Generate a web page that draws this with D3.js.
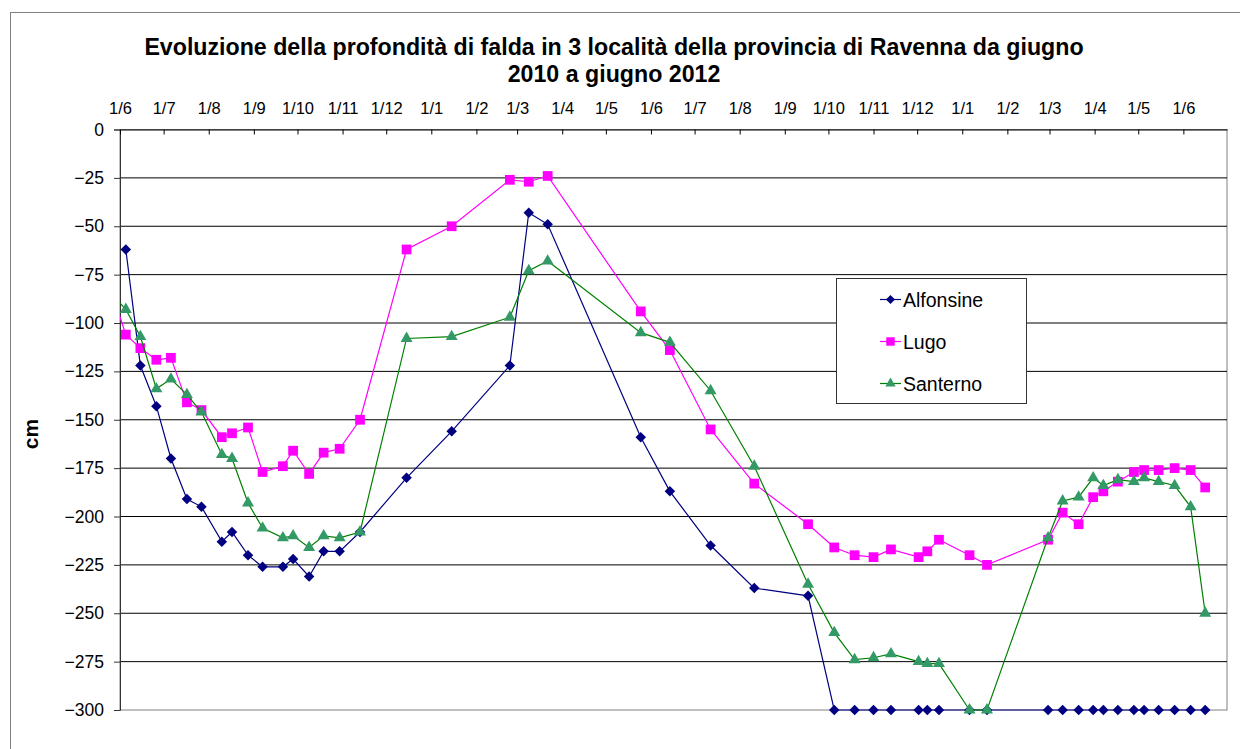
<!DOCTYPE html>
<html>
<head>
<meta charset="utf-8">
<script src="https://cdn.jsdelivr.net/npm/d3@7"></script>
<style>
  html, body { margin: 0; padding: 0; background: #fff; }
  svg { display: block; font-family: "Liberation Sans", Arial, sans-serif; }
</style>
</head>
<body>
<svg id="chart" width="1240" height="749"></svg>
<script>
// ---------------- DATA ----------------
const titleLines = [
  "Evoluzione della profondità di falda in 3 località della provincia di Ravenna da giugno",
  "2010 a giugno 2012"
];
const yLabel = "cm";
const seriesNames = ["Alfonsine", "Lugo", "Santerno"];

const dates = [
  "2010-05-25",
  "2010-06-05","2010-06-15","2010-06-26","2010-07-06","2010-07-17","2010-07-27","2010-08-10","2010-08-17","2010-08-28",
  "2010-09-07","2010-09-21","2010-09-28","2010-10-09","2010-10-19","2010-10-30","2010-11-13","2010-12-15",
  "2011-01-15","2011-02-24","2011-03-09","2011-03-22","2011-05-25","2011-06-14","2011-07-12","2011-08-11","2011-09-17",
  "2011-10-05","2011-10-19","2011-11-01","2011-11-13","2011-12-02","2011-12-08","2011-12-16",
  "2012-01-06","2012-01-18","2012-02-29","2012-03-10","2012-03-21","2012-03-31","2012-04-07","2012-04-17","2012-04-28",
  "2012-05-05","2012-05-15","2012-05-26","2012-06-06","2012-06-16"
];

const alfonsine = [
  null,
  -62,-122,-143,-170,-191,-195,-213,-208,-220,
  -226,-226,-222,-231,-218,-218,-208,-180,
  -156,-122,-43,-49,-159,-187,-215,-237,-241,
  -300,-300,-300,-300,-300,-300,-300,
  -300,-300,-300,-300,-300,-300,-300,-300,-300,-300,-300,-300,-300,-300
];
const lugo = [
  -81,
  -106,-113,-119,-118,-141,-145,-159,-157,-154,
  -177,-174,-166,-178,-167,-165,-150,-62,
  -50,-26,-27,-24,-94,-114,-155,-183,-204,
  -216,-220,-221,-217,-221,-218,-212,
  -220,-225,-212,-198,-204,-190,-187,-182,-177,-176,-176,-175,-176,-185
];
const santerno = [
  -84,
  -93,-107,-134,-129,-137,-146,-168,-170,-193,
  -206,-211,-210,-216,-210,-211,-208,-108,
  -107,-97,-73,-68,-105,-110,-135,-174,-235,
  -260,-274,-273,-271,-275,-276,-276,
  -300,-300,-211,-192,-190,-180,-184,-181,-182,-180,-182,-184,-195,-250
];

const xDomain = ["2010-06-01", "2012-07-01"];
const xTickDates = [
  "2010-06-01","2010-07-01","2010-08-01","2010-09-01","2010-10-01","2010-11-01","2010-12-01",
  "2011-01-01","2011-02-01","2011-03-01","2011-04-01","2011-05-01","2011-06-01","2011-07-01",
  "2011-08-01","2011-09-01","2011-10-01","2011-11-01","2011-12-01",
  "2012-01-01","2012-02-01","2012-03-01","2012-04-01","2012-05-01","2012-06-01"
];
const yTicks = [0,-25,-50,-75,-100,-125,-150,-175,-200,-225,-250,-275,-300];

// ---------------- LAYOUT ----------------
const parse = d3.timeParse("%Y-%m-%d");
const svg = d3.select("#chart");
const plot = { left: 120, right: 1227, top: 129.5, bottom: 710 };

const x = d3.scaleTime().domain(xDomain.map(parse)).range([plot.left, plot.right]);
const y = d3.scaleLinear().domain([-300, 0]).range([plot.bottom, plot.top]);

// outer chart border
svg.append("rect")
  .attr("x", 10.5).attr("y", 12.5).attr("width", 1240).attr("height", 760)
  .attr("fill", "#fff").attr("stroke", "#808080").attr("stroke-width", 1);

// plot area
svg.append("rect")
  .attr("x", plot.left).attr("y", plot.top)
  .attr("width", plot.right - plot.left).attr("height", plot.bottom - plot.top)
  .attr("fill", "#fff").attr("stroke", "#808080").attr("stroke-width", 1);

// gridlines
svg.append("g")
  .selectAll("line")
  .data(yTicks.filter(v => v !== 0 && v !== -300))
  .join("line")
  .attr("x1", plot.left).attr("x2", plot.right)
  .attr("y1", d => y(d)).attr("y2", d => y(d))
  .attr("stroke", "#000").attr("stroke-width", 1);

// y axis
const yAxis = d3.axisLeft(y).tickValues(yTicks).tickSize(6).tickPadding(10).tickFormat(d3.format("d"));
const gy = svg.append("g").attr("transform", `translate(${plot.left},0)`).call(yAxis);
gy.select(".domain").attr("stroke", "#333");
gy.selectAll(".tick line").attr("stroke", "#333");
gy.selectAll(".tick text")
  .attr("font-size", "17.5px").attr("fill", "#000")
  .attr("font-family", "'Liberation Sans', Arial, sans-serif");

// x axis at top (value 0)
const xAxis = d3.axisTop(x)
  .tickValues(xTickDates.map(parse))
  .tickSizeInner(-5).tickSizeOuter(0)
  .tickPadding(16)
  .tickFormat(d3.timeFormat("%-d/%-m"));
const gx = svg.append("g").attr("transform", `translate(0,${y(0)})`).call(xAxis);
gx.select(".domain").attr("stroke", "#000");
gx.selectAll(".tick line").attr("stroke", "#000");
gx.selectAll(".tick text")
  .attr("font-size", "16.5px").attr("fill", "#000")
  .attr("font-family", "'Liberation Sans', Arial, sans-serif");

// clip path for lines
svg.append("clipPath").attr("id", "clip")
  .append("rect").attr("x", plot.left).attr("y", 0)
  .attr("width", plot.right - plot.left).attr("height", 749);

// rotated-square diamond
const diamondSym = {
  draw(ctx, size) {
    const r = Math.sqrt(size) / Math.SQRT2;
    ctx.moveTo(0, -r); ctx.lineTo(r, 0); ctx.lineTo(0, r); ctx.lineTo(-r, 0); ctx.closePath();
  }
};

// series
const series = [
  { name: seriesNames[0], values: alfonsine, line: "#000080", fill: "#000080", shape: diamondSym, size: 55 },
  { name: seriesNames[1], values: lugo, line: "#FF00FF", fill: "#FF00FF", shape: d3.symbolSquare, size: 95 },
  { name: seriesNames[2], values: santerno, line: "#008000", fill: "#339966", shape: d3.symbolTriangle, size: 62 }
];

const lineGen = d3.line()
  .defined(d => d.v !== null)
  .x(d => x(d.t)).y(d => y(d.v));

series.forEach(s => {
  const pts = dates.map((dt, i) => ({ t: parse(dt), v: s.values[i] }));
  const g = svg.append("g");
  g.append("path")
    .datum(pts)
    .attr("clip-path", "url(#clip)")
    .attr("fill", "none")
    .attr("stroke", s.line)
    .attr("stroke-width", 1.2)
    .attr("d", lineGen);
  const sym = d3.symbol().type(s.shape).size(s.size);
  g.selectAll("path.m")
    .data(pts.filter(p => p.v !== null && p.t >= x.domain()[0]))
    .join("path")
    .attr("class", "m")
    .attr("transform", p => `translate(${x(p.t)},${y(p.v)})`)
    .attr("d", sym)
    .attr("fill", s.fill);
});

// title
svg.append("g").selectAll("text")
  .data(titleLines)
  .join("text")
  .attr("x", 614)
  .attr("y", (d, i) => 55 + i * 27)
  .attr("text-anchor", "middle")
  .attr("font-size", "23.2px")
  .attr("font-weight", "bold")
  .attr("fill", "#000")
  .text(d => d);

// y label
svg.append("text")
  .attr("transform", "translate(38,434) rotate(-90)")
  .attr("text-anchor", "middle")
  .attr("font-size", "21px")
  .attr("font-weight", "bold")
  .attr("fill", "#000")
  .text(yLabel);

// legend
const legend = svg.append("g");
legend.append("rect")
  .attr("x", 836.5).attr("y", 278.5).attr("width", 190).attr("height", 125)
  .attr("fill", "#fff").attr("stroke", "#333").attr("stroke-width", 1);
series.forEach((s, i) => {
  const cy = 299.5 + i * 42;
  legend.append("line")
    .attr("x1", 880).attr("x2", 901).attr("y1", cy).attr("y2", cy)
    .attr("stroke", s.line).attr("stroke-width", 1.2);
  legend.append("path")
    .attr("transform", `translate(890.5,${cy})`)
    .attr("d", d3.symbol().type(s.shape).size(s.size * 0.75)())
    .attr("fill", s.fill);
  legend.append("text")
    .attr("x", 903).attr("y", cy + 7)
    .attr("font-size", "19.5px").attr("fill", "#000")
    .text(s.name);
});
</script>
</body>
</html>
